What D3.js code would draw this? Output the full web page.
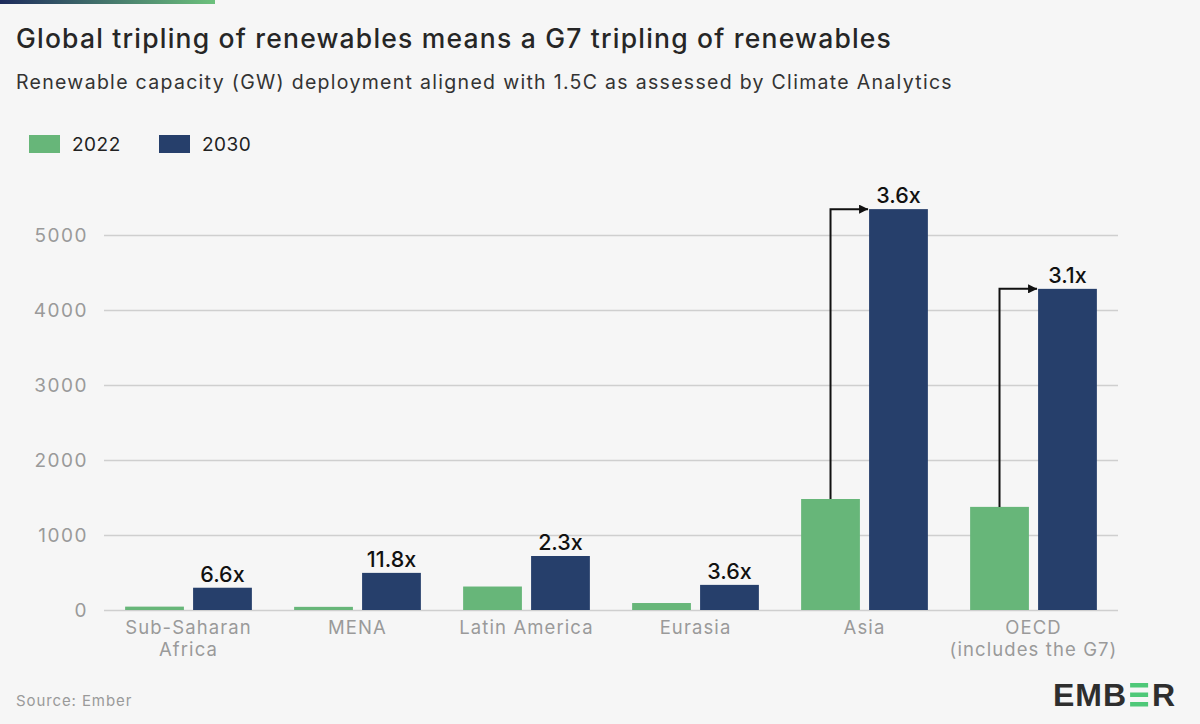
<!DOCTYPE html>
<html><head><meta charset="utf-8">
<script src="https://cdn.jsdelivr.net/npm/d3@7"></script>
<style>
body{margin:0;background:#f6f6f6;}
svg{display:block;font-family:Inter,"Noto Sans",sans-serif;}
</style></head>
<body><svg id="c" width="1200" height="724"></svg>
<script>
const categories = ["Sub-Saharan\nAfrica","MENA","Latin America","Eurasia","Asia","OECD\n(includes the G7)"];
const series = ["2022","2030"];
const values2022 = [45, 42, 313, 93, 1480, 1375];
const values2030 = [297, 495, 720, 335, 5345, 4282];
const multipliers = ["6.6x","11.8x","2.3x","3.6x","3.6x","3.1x"];
const arrowCats = ["Asia","OECD\n(includes the G7)"];
const yTicks = [0,1000,2000,3000,4000,5000];
const colors = {"2022":"#67b679","2030":"#263f6b"};

const svg = d3.select("#c");
const defs = svg.append("defs");
const grad = defs.append("linearGradient").attr("id","g");
grad.append("stop").attr("offset","0%").attr("stop-color","#1d2b5c");
grad.append("stop").attr("offset","100%").attr("stop-color","#6cc17c");
svg.append("rect").attr("x",0).attr("y",0).attr("width",215).attr("height",4).attr("fill","url(#g)");
const mk = defs.append("marker").attr("id","arr").attr("viewBox","0 0 10 10").attr("refX",10).attr("refY",5)
  .attr("markerWidth",9).attr("markerHeight",9).attr("markerUnits","userSpaceOnUse").attr("orient","auto");
mk.append("path").attr("d","M0,0L10,5L0,10Z").attr("fill","#111");

svg.append("text").attr("x",16).attr("y",48).attr("font-size",26.5).attr("font-weight",500).attr("fill","#262626")
  .attr("letter-spacing",1.2)
  .text("Global tripling of renewables means a G7 tripling of renewables");
svg.append("text").attr("x",16).attr("y",89).attr("font-size",19.5).attr("fill","#333").attr("letter-spacing",1.3)
  .text("Renewable capacity (GW) deployment aligned with 1.5C as assessed by Climate Analytics");

const leg = svg.append("g");
[[29,72],[159,202]].forEach((p,i)=>{
  leg.append("rect").attr("x",p[0]).attr("y",135).attr("width",31).attr("height",18).attr("fill",colors[series[i]]);
  leg.append("text").attr("x",p[1]).attr("y",151).attr("font-size",19).attr("letter-spacing",0.5).attr("fill","#222").text(series[i]);
});

const x0 = d3.scaleBand().domain(categories).range([104,1118]).paddingInner(0.25).paddingOuter(0.125);
const x1 = d3.scaleBand().domain(series).range([0,x0.bandwidth()]).paddingInner(0.135);
const y = d3.scaleLinear().domain([0,5000]).range([610,235]);

const ax = svg.append("g").attr("transform","translate(104,0)")
  .call(d3.axisLeft(y).tickValues(yTicks).tickSize(-1014).tickFormat(d3.format("d")));
ax.select(".domain").remove();
ax.selectAll(".tick line").attr("stroke","#cfcfcf").attr("stroke-width",1.5);
ax.selectAll(".tick text").attr("x",-16).attr("font-size",19).attr("letter-spacing",1.5).attr("fill","#9a9a9a").attr("font-family","Inter,sans-serif");

const data = categories.map((c,i)=>({c, v:[values2022[i],values2030[i]], m:multipliers[i]}));
const g = svg.append("g");
data.forEach(d=>{
  series.forEach((s,j)=>{
    g.append("rect").attr("x",x0(d.c)+x1(s)).attr("y",y(d.v[j])).attr("width",x1.bandwidth())
      .attr("height",y(0)-y(d.v[j])).attr("fill",colors[s]);
  });
  g.append("text").attr("x",x0(d.c)+x1("2030")+x1.bandwidth()/2).attr("y",y(d.v[1])-6)
    .attr("text-anchor","middle").attr("font-size",21.5).attr("font-weight",500).attr("fill","#111").text(d.m);
  if(arrowCats.includes(d.c)){
    const xs = x0(d.c)+x1("2022")+x1.bandwidth()/2, yt = y(d.v[1]);
    g.append("path").attr("d",`M${xs},${y(d.v[0])}V${yt}H${x0(d.c)+x1("2030")-1}`)
      .attr("fill","none").attr("stroke","#111").attr("stroke-width",2).attr("marker-end","url(#arr)");
  }
  const lines = d.c.split("\n");
  const t = g.append("text").attr("text-anchor","middle").attr("font-size",18.5).attr("letter-spacing",1.1).attr("fill","#9a9a9a");
  lines.forEach((l,k)=>t.append("tspan").attr("x",x0(d.c)+x0.bandwidth()/2).attr("y",634+k*22).text(l));
});

svg.append("text").attr("x",16).attr("y",706).attr("font-size",15).attr("letter-spacing",0.9).attr("fill","#9a9a9a").text("Source: Ember");

const lg = svg.append("g").attr("font-family","'Liberation Sans',Arial,sans-serif").attr("font-weight",700)
  .attr("font-size",32).attr("fill","#2e2e2e");
const t1 = lg.append("text").attr("x",1053).attr("y",706).attr("letter-spacing",1).text("EMB");
const w = t1.node().getComputedTextLength();
const ex = 1053 + w + 3;
[683,692.5,702].forEach(yy=>lg.append("rect").attr("x",ex).attr("y",yy).attr("width",18).attr("height",4.5).attr("fill","#4fc878"));
lg.append("text").attr("x",ex+22).attr("y",706).text("R");
</script></body></html>
